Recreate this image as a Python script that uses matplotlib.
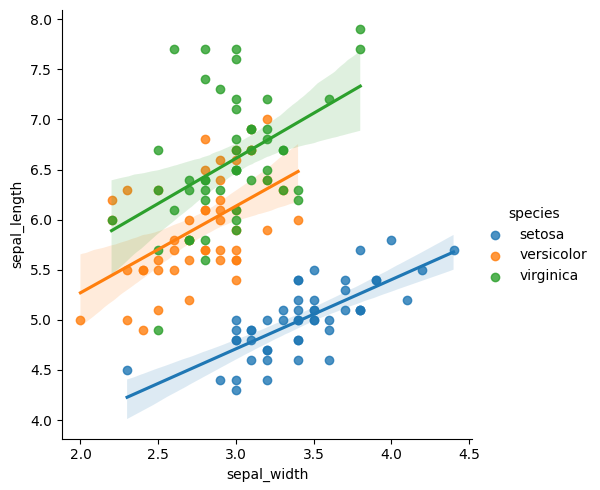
import pandas as pd
import seaborn as sns
import matplotlib
matplotlib.use("Agg")
import matplotlib.pyplot as plt

# iris sepal measurements, per species
setosa_length = [5.1,4.9,4.7,4.6,5.0,5.4,4.6,5.0,4.4,4.9,5.4,4.8,4.8,4.3,5.8,5.7,5.4,5.1,5.7,5.1,
                 5.4,5.1,4.6,5.1,4.8,5.0,5.0,5.2,5.2,4.7,4.8,5.4,5.2,5.5,4.9,5.0,5.5,4.9,4.4,5.1,
                 5.0,4.5,4.4,5.0,5.1,4.8,5.1,4.6,5.3,5.0]
setosa_width = [3.5,3.0,3.2,3.1,3.6,3.9,3.4,3.4,2.9,3.1,3.7,3.4,3.0,3.0,4.0,4.4,3.9,3.5,3.8,3.8,
                3.4,3.7,3.6,3.3,3.4,3.0,3.4,3.5,3.4,3.2,3.1,3.4,4.1,4.2,3.1,3.2,3.5,3.6,3.0,3.4,
                3.5,2.3,3.2,3.5,3.8,3.0,3.8,3.2,3.7,3.3]
versicolor_length = [7.0,6.4,6.9,5.5,6.5,5.7,6.3,4.9,6.6,5.2,5.0,5.9,6.0,6.1,5.6,6.7,5.6,5.8,6.2,5.6,
                     5.9,6.1,6.3,6.1,6.4,6.6,6.8,6.7,6.0,5.7,5.5,5.5,5.8,6.0,5.4,6.0,6.7,6.3,5.6,5.5,
                     5.5,6.1,5.8,5.0,5.6,5.7,5.7,6.2,5.1,5.7]
versicolor_width = [3.2,3.2,3.1,2.3,2.8,2.8,3.3,2.4,2.9,2.7,2.0,3.0,2.2,2.9,2.9,3.1,3.0,2.7,2.2,2.5,
                    3.2,2.8,2.5,2.8,2.9,3.0,2.8,3.0,2.9,2.6,2.4,2.4,2.7,2.7,3.0,3.4,3.1,2.3,3.0,2.5,
                    2.6,3.0,2.6,2.3,2.7,3.0,2.9,2.9,2.5,2.8]
virginica_length = [6.3,5.8,7.1,6.3,6.5,7.6,4.9,7.3,6.7,7.2,6.5,6.4,6.8,5.7,5.8,6.4,6.5,7.7,7.7,6.0,
                    6.9,5.6,7.7,6.3,6.7,7.2,6.2,6.1,6.4,7.2,7.4,7.9,6.4,6.3,6.1,7.7,6.3,6.4,6.0,6.9,
                    6.7,6.9,5.8,6.8,6.7,6.7,6.3,6.5,6.2,5.9]
virginica_width = [3.3,2.7,3.0,2.9,3.0,3.0,2.5,2.9,2.5,3.6,3.2,2.7,3.0,2.5,2.8,3.2,3.0,3.8,2.6,2.2,
                   3.2,2.8,2.8,2.7,3.3,3.2,2.8,3.0,2.8,3.0,2.8,3.8,2.8,2.8,2.6,3.0,3.4,3.1,3.0,3.1,
                   3.1,3.1,2.7,3.2,3.3,3.0,2.5,3.0,3.4,3.0]

df = pd.DataFrame({
    "sepal_length": setosa_length + versicolor_length + virginica_length,
    "sepal_width": setosa_width + versicolor_width + virginica_width,
    "species": ["setosa"] * 50 + ["versicolor"] * 50 + ["virginica"] * 50,
})

g = sns.lmplot(data=df, x="sepal_width", y="sepal_length", hue="species",
               height=4.9, aspect=1.0, seed=0)
g.figure.set_size_inches(6, 4.9)
g.figure.subplots_adjust(left=0.103, right=0.787, bottom=0.105, top=0.98)
g.figure.savefig("out.png", dpi=100)
